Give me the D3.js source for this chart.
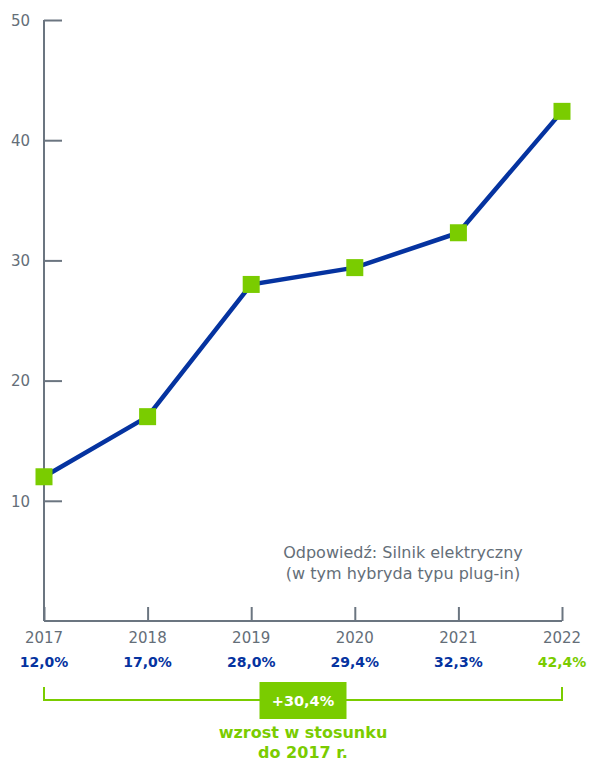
<!DOCTYPE html>
<html>
<head>
<meta charset="utf-8">
<script src="https://cdn.jsdelivr.net/npm/d3@7"></script>
<style>
  html, body { margin: 0; padding: 0; background: #fff; }
  svg { display: block; font-family: "DejaVu Sans", "Open Sans", sans-serif; }
</style>
</head>
<body>
<svg id="chart" width="592" height="760"></svg>
<script>
// Share of respondents choosing an electric drive, by survey year
const years = ["2017", "2018", "2019", "2020", "2021", "2022"];
const values = [12.0, 17.0, 28.0, 29.4, 32.3, 42.4];
const valueLabels = ["12,0%", "17,0%", "28,0%", "29,4%", "32,3%", "42,4%"];
const yTicks = [10, 20, 30, 40, 50];
const growthLabel = "+30,4%";
const growthNote = ["wzrost w stosunku", "do 2017 r."];
const answerNote = ["Odpowiedź: Silnik elektryczny", "(w tym hybryda typu plug-in)"];

const BLUE = "#0533a0";
const GREEN = "#7acc00";
const GREY = "#646e78";
const AXIS = "#6b7580";

const svg = d3.select("#chart");

const x = d3.scalePoint().domain(years).range([44, 562]);
const y = d3.scaleLinear().domain([0, 50]).range([621, 20]);

// Y axis: ticks pointing into the plot
const yAxis = d3.axisLeft(y).tickValues(yTicks).tickSize(-18).tickSizeOuter(0);
const gy = svg.append("g").attr("transform", "translate(44,0)").call(yAxis);
gy.select(".domain").attr("stroke", AXIS).attr("stroke-width", 2)
  .attr("d", `M0,${y(50)}V${y(0)}`);
gy.selectAll(".tick line").attr("stroke", AXIS).attr("stroke-width", 2);
gy.selectAll(".tick text").attr("fill", GREY).attr("font-size", 15)
  .attr("font-family", "'DejaVu Sans', sans-serif").attr("x", -14).attr("dy", "0.35em");

// X axis: ticks pointing upward
const xAxis = d3.axisBottom(x).tickSize(-14).tickSizeOuter(0).tickFormat("");
const gx = svg.append("g").attr("transform", `translate(0,${y(0)})`).call(xAxis);
gx.select(".domain").attr("stroke", AXIS).attr("stroke-width", 2)
  .attr("d", `M${x(years[0])},0H${x(years[years.length - 1])}`);
gx.selectAll(".tick line").attr("stroke", AXIS).attr("stroke-width", 2);

// Year labels and values below the axis
svg.append("g").selectAll("text").data(years).join("text")
  .attr("x", d => x(d)).attr("y", 643)
  .attr("text-anchor", "middle").attr("font-size", 15).attr("fill", GREY)
  .text(d => d);

svg.append("g").selectAll("text").data(valueLabels).join("text")
  .attr("x", (d, i) => x(years[i])).attr("y", 667)
  .attr("text-anchor", "middle").attr("font-size", 14).attr("font-weight", 700)
  .attr("fill", (d, i) => i === valueLabels.length - 1 ? GREEN : BLUE)
  .text(d => d);

// Series line
const line = d3.line().x((d, i) => x(years[i])).y(d => y(d));
svg.append("path").datum(values)
  .attr("d", line).attr("fill", "none")
  .attr("stroke", BLUE).attr("stroke-width", 4.5).attr("stroke-linejoin", "round");

// Square markers
const s = 17;
svg.append("g").selectAll("rect").data(values).join("rect")
  .attr("x", (d, i) => x(years[i]) - s / 2).attr("y", d => y(d) - s / 2)
  .attr("width", s).attr("height", s).attr("fill", GREEN);

// Answer note
svg.append("text").attr("y", 558)
  .attr("text-anchor", "middle").attr("font-size", 16).attr("fill", GREY)
  .selectAll("tspan").data(answerNote).join("tspan")
  .attr("x", 403).attr("dy", (d, i) => i ? 21 : 0).text(d => d);

// Growth bracket from first to last year
const by = 700;
const x0 = x(years[0]), x1 = x(years[years.length - 1]);
svg.append("path")
  .attr("d", `M${x0},${by - 13}V${by}H${x1}V${by - 13}`)
  .attr("fill", "none").attr("stroke", GREEN).attr("stroke-width", 2);

const cx = (x(years[2]) + x(years[3])) / 2;
svg.append("rect").attr("x", cx - 43.5).attr("y", 682).attr("width", 87).attr("height", 37)
  .attr("fill", GREEN);
svg.append("text").attr("x", cx).attr("y", 706)
  .attr("text-anchor", "middle").attr("font-size", 14.5).attr("font-weight", 700)
  .attr("fill", "#fff").text(growthLabel);

svg.append("text").attr("y", 738)
  .attr("text-anchor", "middle").attr("font-size", 16).attr("font-weight", 700)
  .attr("fill", GREEN)
  .selectAll("tspan").data(growthNote).join("tspan")
  .attr("x", cx).attr("dy", (d, i) => i ? 19.5 : 0).text(d => d);
</script>
</body>
</html>
